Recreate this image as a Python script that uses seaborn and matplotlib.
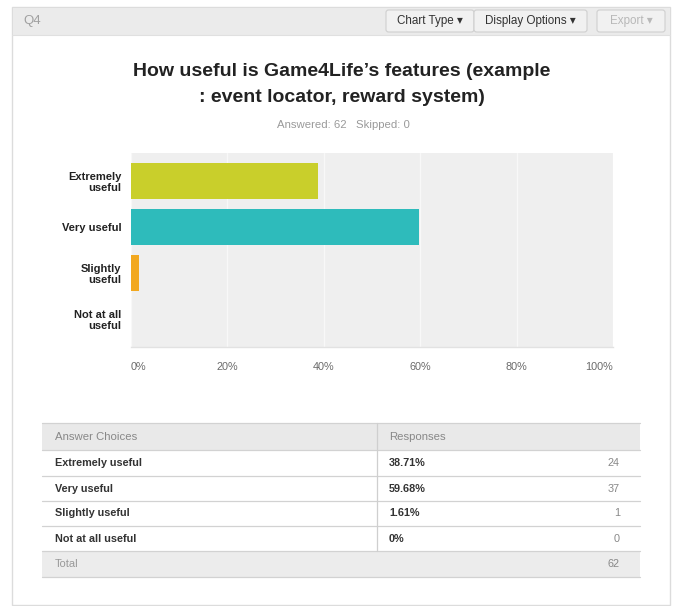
import matplotlib
matplotlib.use("Agg")
import matplotlib.pyplot as plt
from matplotlib.patches import Rectangle, FancyBboxPatch
from matplotlib.lines import Line2D
from matplotlib.ticker import FuncFormatter
import seaborn as sns

# Survey data
axis_labels = ["Extremely\nuseful", "Very useful", "Slightly\nuseful", "Not at all\nuseful"]
answer_choices = ["Extremely useful", "Very useful", "Slightly useful", "Not at all useful"]
percents = [38.71, 59.68, 1.61, 0.0]
counts = [24, 37, 1, 0]
answered = 62
skipped = 0
bar_colors = ["#c9cf2b", "#2ebbbb", "#f2a81f", "#888888"]
x_ticks = [0, 20, 40, 60, 80, 100]

W, H = 673, 606
sns.set_theme(style="white")
plt.rcParams["font.family"] = ["Liberation Sans", "DejaVu Sans"]

fig = plt.figure(figsize=(W / 100, H / 100), dpi=100)
fig.patch.set_facecolor("white")


def fx(x):
    return x / W


def fy(y):
    return 1 - y / H


def rect(x0, y0, x1, y1, fc, ec="none", lw=0.8, z=0):
    fig.add_artist(Rectangle((fx(x0), fy(y1)), fx(x1) - fx(x0), fy(y0) - fy(y1),
                             transform=fig.transFigure, facecolor=fc, edgecolor=ec,
                             linewidth=lw, zorder=z))


def hline(x0, x1, y, color="#d4d4d4", lw=0.9, z=2):
    fig.add_artist(Line2D([fx(x0), fx(x1)], [fy(y), fy(y)], transform=fig.transFigure,
                          color=color, linewidth=lw, zorder=z))


def vline(x, y0, y1, color="#d4d4d4", lw=0.9, z=2):
    fig.add_artist(Line2D([fx(x), fx(x)], [fy(y0), fy(y1)], transform=fig.transFigure,
                          color=color, linewidth=lw, zorder=z))


def text(x, y, s, **kw):
    kw.setdefault("va", "center")
    fig.text(fx(x), fy(y), s, **kw)


# Panel and header bar
rect(12, 7, 670, 605, "white", ec="#dcdcdc", lw=1.0, z=0)
rect(12.5, 7.5, 669.5, 35, "#ebebeb", z=1)
hline(12, 670, 35, color="#e0e0e0", lw=0.8)
text(23, 21, "Q4", color="#a0a0a0", fontsize=9.5)


def button(x0, x1, label, color):
    fig.add_artist(FancyBboxPatch((fx(x0), fy(32)), fx(x1) - fx(x0), fy(10) - fy(32),
                                  boxstyle="round,pad=0,rounding_size=0.004",
                                  transform=fig.transFigure, facecolor="#f1f1f1",
                                  edgecolor="#cfcfcf", linewidth=0.8, zorder=3))
    text((x0 + x1) / 2, 21, label, color=color, fontsize=8.4, ha="center", zorder=4)


button(386, 474, "Chart Type \u25be", "#333333")
button(474, 587, "Display Options \u25be", "#333333")
button(597, 665, "Export \u25be", "#b8b8b8")

# Title and subtitle
text(342, 72, "How useful is Game4Life\u2019s features (example", fontsize=14,
     fontweight="bold", color="#222222", ha="center")
text(342, 97.5, ": event locator, reward system)", fontsize=14,
     fontweight="bold", color="#222222", ha="center")
text(343, 125, "Answered: %d   Skipped: %d" % (answered, skipped), fontsize=8.2,
     color="#9a9a9a", ha="center")

# Bar chart
ax = fig.add_axes([fx(131), fy(347), fx(613) - fx(131), fy(153) - fy(347)])
sns.barplot(x=percents, y=axis_labels, hue=axis_labels, palette=bar_colors,
            width=0.78, saturation=1, legend=False, linewidth=0, ax=ax, zorder=3)
ax.set_facecolor("#efefef")
ax.set_xlim(0, 100)
ax.set_ylim(3.61, -0.61)
ax.set_xticks(x_ticks)
ax.xaxis.set_major_formatter(FuncFormatter(lambda v, p: "%d%%" % v))
ax.grid(axis="x", color="#f8f8f8", linewidth=1.0, zorder=1)
ax.set_axisbelow(True)
for s in ["top", "left", "right"]:
    ax.spines[s].set_visible(False)
ax.spines["bottom"].set_color("#e2e2e2")
ax.spines["bottom"].set_linewidth(1.0)
ax.tick_params(axis="x", length=0, pad=11, labelsize=7.8, labelcolor="#6a6a6a")
ax.tick_params(axis="y", length=0, pad=7, labelsize=8, labelcolor="#222222")
xlabels = ax.get_xticklabels()
xlabels[0].set_horizontalalignment("left")
xlabels[-1].set_horizontalalignment("right")
for lab in ax.get_yticklabels():
    lab.set_fontweight("bold")
    lab.set_multialignment("right")
    lab.set_linespacing(1.15)
ax.set_xlabel("")
ax.set_ylabel("")

# Response table
tx0, tx1, tdiv = 42, 640, 377
row_edges = [423, 450, 476, 501, 526, 551, 577]
rect(tx0, row_edges[0], tx1, row_edges[1], "#e9e9e9", z=1)
rect(tx0, row_edges[-2], tx1, row_edges[-1], "#ececec", z=1)
for y in row_edges:
    hline(tx0, tx1, y, color="#d2d2d2")
vline(tdiv, row_edges[0], row_edges[-2], color="#cfcfcf")

text(55, 436.5, "Answer Choices", fontsize=8.2, color="#888888")
text(389, 436.5, "Responses", fontsize=8.2, color="#888888")
for i, (name, pct, cnt) in enumerate(zip(answer_choices, percents, counts)):
    yc = (row_edges[i + 1] + row_edges[i + 2]) / 2
    text(55, yc, name, fontsize=7.8, fontweight="bold", color="#333333")
    pct_txt = "0%" if pct == 0 else "%.2f%%" % pct
    text(389, yc, pct_txt, fontsize=7.8, fontweight="bold", color="#333333")
    text(620, yc, str(cnt), fontsize=7.8, color="#888888", ha="right")
text(55, 564, "Total", fontsize=8, color="#999999")
text(620, 564, str(sum(counts)), fontsize=7.8, color="#888888", ha="right")

fig.savefig("out.png", dpi=100, facecolor="white")
